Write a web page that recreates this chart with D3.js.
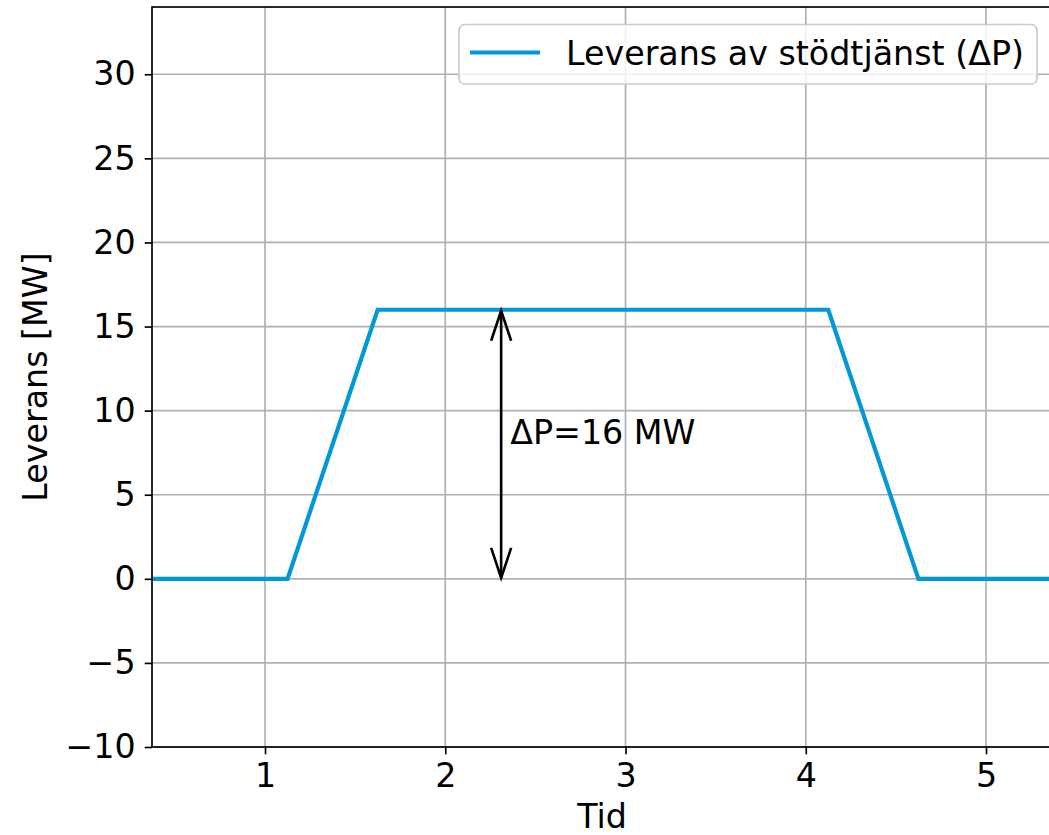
<!DOCTYPE html>
<html>
<head>
<meta charset="utf-8">
<script src="https://cdn.jsdelivr.net/npm/d3@7"></script>
<style>
  html, body { margin: 0; padding: 0; background: #fff; }
  svg { display: block; font-family: "DejaVu Sans", sans-serif; }
</style>
</head>
<body>
<svg id="chart" width="1049" height="835"></svg>
<script>
// ---- data ----
const timeValues = [0.37, 1.125, 1.625, 4.125, 4.625, 5.37];
const deliveryValues = [0, 0, 16, 16, 0, 0];
const seriesName = "Leverans av stödtjänst (ΔP)";
const xTicks = [1, 2, 3, 4, 5];
const yTicks = [-10, -5, 0, 5, 10, 15, 20, 25, 30];
const xDomain = [0.373, 5.366];
const yDomain = [-10, 34];
const arrowX = [2.31];
const arrowFrom = [16];
const arrowTo = [0];
const annotationText = ["ΔP=16 MW"];
const annotationPos = [[2.36, 8]];
const xLabel = "Tid";
const yLabel = "Leverans [MW]";

// ---- layout ----
const W = 1049, H = 835;
const margin = { top: 7, left: 152, bottom: 88, right: -3 };
const pw = W - margin.left - margin.right;
const ph = H - margin.top - margin.bottom;
const FS = 33.3;
const blue = "#0098d8";

const svg = d3.select("#chart");
const x = d3.scaleLinear().domain(xDomain).range([0, pw]);
const y = d3.scaleLinear().domain(yDomain).range([ph, 0]);

const g = svg.append("g").attr("transform", `translate(${margin.left},${margin.top})`);

svg.append("defs").append("clipPath").attr("id", "clip")
  .append("rect").attr("width", pw).attr("height", ph);

// grid
g.append("g").selectAll("line").data(xTicks).join("line")
  .attr("x1", d => x(d)).attr("x2", d => x(d))
  .attr("y1", 0).attr("y2", ph)
  .attr("stroke", "#b0b0b0").attr("stroke-width", 1.67);
g.append("g").selectAll("line").data(yTicks).join("line")
  .attr("x1", 0).attr("x2", pw)
  .attr("y1", d => y(d)).attr("y2", d => y(d))
  .attr("stroke", "#b0b0b0").attr("stroke-width", 1.67);

// line
const line = d3.line().x((d, i) => x(timeValues[i])).y(d => y(d));
g.append("path").datum(deliveryValues)
  .attr("clip-path", "url(#clip)")
  .attr("d", line)
  .attr("fill", "none")
  .attr("stroke", blue)
  .attr("stroke-width", 4.2)
  .attr("stroke-linejoin", "miter");

// arrow annotation (double-headed, open heads)
arrowX.forEach((ax, i) => {
  const px = x(ax), y1 = y(arrowFrom[i]), y2 = y(arrowTo[i]);
  const hl = 31, hw = 10;
  const a = g.append("g").attr("stroke", "#000").attr("stroke-width", 2.6)
    .attr("fill", "none").attr("stroke-linecap", "butt");
  a.append("line").attr("x1", px).attr("x2", px).attr("y1", y1 + 1).attr("y2", y2 - 1);
  a.append("path").attr("d", `M${px - hw},${y1 + hl} L${px},${y1 + 1} L${px + hw},${y1 + hl}`);
  a.append("path").attr("d", `M${px - hw},${y2 - hl} L${px},${y2 - 1} L${px + hw},${y2 - hl}`);
});
annotationText.forEach((t, i) => {
  g.append("text").attr("x", x(annotationPos[i][0])).attr("y", y(annotationPos[i][1]))
    .attr("font-size", FS).attr("fill", "#000").text(t);
});

// axes
const xAxis = d3.axisBottom(x).tickValues(xTicks).tickSize(7.3).tickPadding(9).tickFormat(d3.format("d"));
const yAxis = d3.axisLeft(y).tickValues(yTicks).tickSize(7.3).tickPadding(9)
  .tickFormat(d => d < 0 ? "\u2212" + Math.abs(d) : String(d));

const gx = g.append("g").attr("transform", `translate(0,${ph})`).call(xAxis);
const gy = g.append("g").call(yAxis);
[gx, gy].forEach(ax => {
  ax.select(".domain").remove();
  ax.selectAll(".tick line").attr("stroke", "#000").attr("stroke-width", 1.67);
  ax.selectAll(".tick text").attr("font-size", FS).attr("fill", "#000")
    .attr("font-family", "DejaVu Sans, sans-serif");
});

// spines
g.append("rect").attr("x", 0).attr("y", 0).attr("width", pw).attr("height", ph)
  .attr("fill", "none").attr("stroke", "#000").attr("stroke-width", 1.67);

// axis labels
svg.append("text").attr("x", margin.left + pw / 2).attr("y", 828)
  .attr("text-anchor", "middle").attr("font-size", FS).text(xLabel);
svg.append("text").attr("transform", `translate(47,${margin.top + ph / 2}) rotate(-90)`)
  .attr("text-anchor", "middle").attr("font-size", FS).text(yLabel);

// legend
const lg = svg.append("g");
lg.append("rect").attr("x", 459).attr("y", 24.5).attr("width", 578).attr("height", 59.5)
  .attr("rx", 6).attr("fill", "#fff").attr("fill-opacity", 0.8)
  .attr("stroke", "#cccccc").attr("stroke-width", 1.67);
lg.append("line").attr("x1", 470).attr("x2", 540).attr("y1", 52.5).attr("y2", 52.5)
  .attr("stroke", blue).attr("stroke-width", 4.2);
lg.append("text").attr("x", 566).attr("y", 64.5).attr("font-size", FS).attr("fill", "#000").text(seriesName);
</script>
</body>
</html>
